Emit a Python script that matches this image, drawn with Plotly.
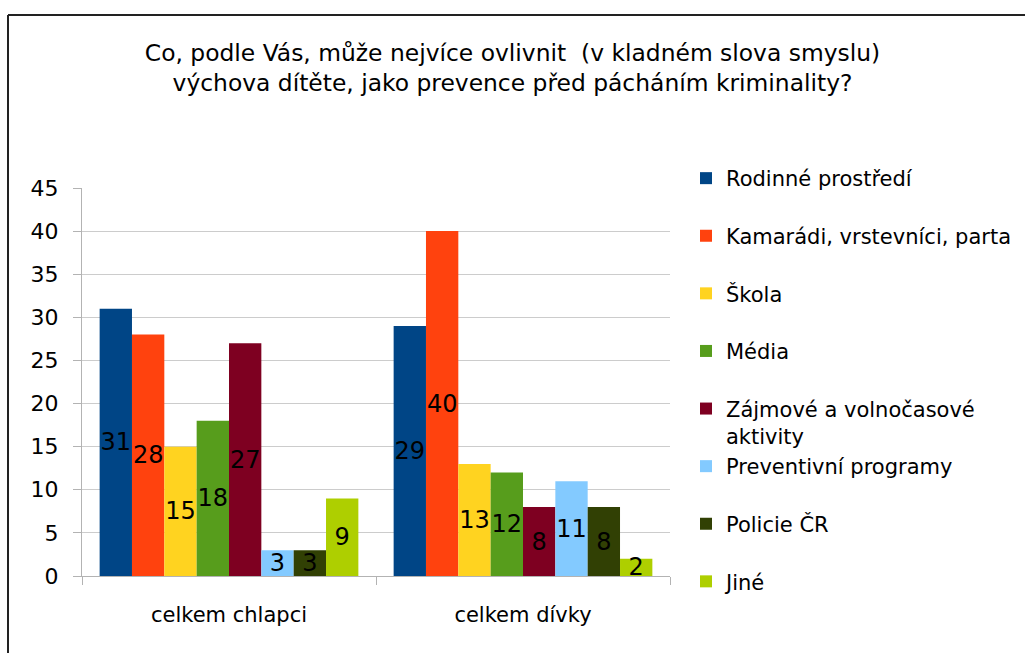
import plotly.graph_objects as go

categories = ["celkem chlapci", "celkem dívky"]
series_names = [
    "Rodinné prostředí",
    "Kamarádi, vrstevníci, parta",
    "Škola",
    "Média",
    "Zájmové a volnočasové<br>aktivity",
    "Preventivní programy",
    "Policie ČR",
    "Jiné",
]
rodinne = [31, 29]
kamaradi = [28, 40]
skola = [15, 13]
media = [18, 12]
zajmove = [27, 8]
preventivni = [3, 11]
policie = [3, 8]
jine = [9, 2]
values = [rodinne, kamaradi, skola, media, zajmove, preventivni, policie, jine]
colors = ["#004586", "#ff420e", "#ffd320", "#579d1c", "#7e0021", "#83caff", "#314004", "#aecf00"]

FONT = "DejaVu Sans, Liberation Sans, Arial, sans-serif"
W, H = 1025, 653
L, R, T, B = 82, 355, 188, 77
pw, ph = W - L - R, H - T - B

fig = go.Figure()
for i, (name, vals, col) in enumerate(zip(series_names, values, colors)):
    label = name if "<br>" in name else name + "<br>\u00a0"
    fig.add_trace(go.Bar(
        name=label, x=categories, y=vals, marker=dict(color=col, line=dict(width=0)),
        text=[str(v) for v in vals], textposition="inside", insidetextanchor="middle",
        constraintext="none", textangle=0,
        textfont=dict(family=FONT, size=24, color="black"),
        legendgroup=f"g{i}",
    ))

def px_x(px):
    return (px - L) / pw

def px_y(py):
    return (H - B - py) / ph

fig.update_layout(
    width=W, height=H,
    margin=dict(l=L, r=R, t=T, b=B, autoexpand=False),
    paper_bgcolor="white", plot_bgcolor="white",
    barmode="group", bargap=0.12, bargroupgap=0,
    font=dict(family=FONT, color="black"),
    title=dict(
        text="Co, podle Vás, může nejvíce ovlivnit  (v kladném slova smyslu)<br>výchova dítěte, jako prevence před pácháním kriminality?",
        x=0.5, xanchor="center", xref="container",
        y=1 - 60.5 / H, yanchor="middle", yref="container",
        font=dict(family=FONT, size=23.4, color="black"),
    ),
    showlegend=True,
    legend=dict(
        x=px_x(686), xanchor="left", y=px_y(158), yanchor="top",
        font=dict(family=FONT, size=21, color="black"), valign="top",
        tracegroupgap=0, bgcolor="rgba(0,0,0,0)", maxheight=600,
    ),
    xaxis=dict(
        showline=True, linecolor="#b3b3b3", linewidth=1,
        ticks="outside", tickson="boundaries", ticklen=8, tickcolor="#b3b3b3",
        tickfont=dict(family=FONT, size=21, color="black"), showgrid=False,
        ticklabelstandoff=20,
    ),
    yaxis=dict(
        range=[0, 45], dtick=5, showline=True, linecolor="#b3b3b3", linewidth=1,
        ticks="outside", ticklen=8, tickcolor="#b3b3b3",
        showgrid=True, gridcolor="#cccccc", gridwidth=1,
        tickfont=dict(family=FONT, size=22, color="black"), zeroline=False,
        ticklabelstandoff=10,
    ),
    shapes=[
        dict(type="line", xref="paper", yref="paper", x0=px_x(8), x1=px_x(1030), y0=px_y(15), y1=px_y(15),
             line=dict(color="#222222", width=2)),
        dict(type="line", xref="paper", yref="paper", x0=px_x(8), x1=px_x(8), y0=px_y(15), y1=px_y(660),
             line=dict(color="#222222", width=2)),
    ],
)

fig.write_html("out.html", config={"displayModeBar": False},
               post_script="document.body.style.margin='0';document.body.style.overflow='hidden';")
